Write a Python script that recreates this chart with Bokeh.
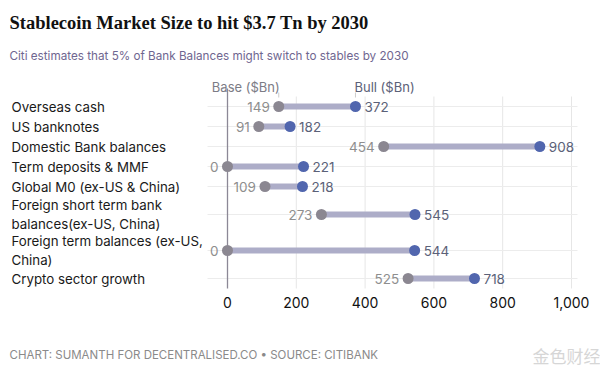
from bokeh.plotting import figure
from bokeh.layouts import column
from bokeh.models import Range1d, FixedTicker, NumeralTickFormatter, ColumnDataSource
from bokeh.core.properties import value
from bokeh.embed import file_html
from bokeh.resources import INLINE

# ---------------- data ----------------
categories = [
    "Overseas cash",
    "US banknotes",
    "Domestic Bank balances",
    "Term deposits & MMF",
    "Global M0 (ex-US & China)",
    "Foreign short term bank\nbalances(ex-US, China)",
    "Foreign term balances (ex-US,\nChina)",
    "Crypto sector growth",
]
base = [149, 91, 454, 0, 109, 273, 0, 525]
bull = [372, 182, 908, 221, 218, 545, 544, 718]
x_ticks = [0, 200, 400, 600, 800, 1000]

TITLE = "Stablecoin Market Size to hit $3.7 Tn by 2030"
SUBTITLE = "Citi estimates that 5% of Bank Balances might switch to stables by 2030"
FOOTER = "CHART: SUMANTH FOR DECENTRALISED.CO \u2022 SOURCE: CITIBANK"
WATERMARK = "金色财经"
BASE_HDR = "Base ($Bn)"
BULL_HDR = "Bull ($Bn)"

# ---------------- layout ----------------
W, H = 600, 374
H_MAIN = 336
X0_PAGE, X1000_PAGE = 227, 571
scale = (X1000_PAGE - X0_PAGE) / 1000.0
x_start = -X0_PAGE / scale
x_end = x_start + W / scale


def px(page_x):
    return x_start + page_x / scale


FRAME_BOTTOM = 289
ROWS_TOP = 96
LINE_H = {1: 20, 2: 36}
ys = []
cur = ROWS_TOP
for c in categories:
    h = LINE_H[c.count("\n") + 1]
    ys.append(cur + h / 2)
    cur += h

FONT = value("Inter")

p = figure(width=W, height=H_MAIN, x_range=Range1d(x_start, x_end),
           y_range=Range1d(FRAME_BOTTOM, 0), output_backend="svg",
           toolbar_location=None, y_axis_location=None,
           min_border_left=0, min_border_right=0, min_border_top=0,
           min_border_bottom=H_MAIN - FRAME_BOTTOM)
p.outline_line_color = None
p.xgrid.visible = False
p.ygrid.visible = False

# grid lines
vg = x_ticks[1:]
p.segment(x0=vg, y0=[ROWS_TOP] * len(vg), x1=vg, y1=[FRAME_BOTTOM - 1] * len(vg),
          line_color="#e6e6e6", line_width=1)
p.segment(x0=[px(207)] * len(ys), y0=ys, x1=[px(577)] * len(ys), y1=ys,
          line_color="#ececec", line_width=1)
# zero line
p.segment(x0=[0], y0=[88], x1=[0], y1=[FRAME_BOTTOM - 1], line_color="#8c8896", line_width=1.3)

src = ColumnDataSource(dict(cat=categories, base=base, bull=bull, y=ys,
                            bl=[str(v) for v in base], ul=[str(v) for v in bull]))

p.segment(x0="base", y0="y", x1="bull", y1="y", source=src,
          line_color="#adadc8", line_width=6)
p.scatter(x="base", y="y", source=src, size=11, fill_color="#8b8791", line_color=None)
p.scatter(x="bull", y="y", source=src, size=11, fill_color="#5166ae", line_color=None)

p.text(x="base", y="y", text="bl", source=src, x_offset=-9, text_align="right",
       text_baseline="middle", text_color="#8e8e8e", text_font=FONT, text_font_size="13.5px")
p.text(x="bull", y="y", text="ul", source=src, x_offset=9, text_align="left",
       text_baseline="middle", text_color="#5b6178", text_font=FONT, text_font_size="13.5px")

# headers
p.text(x=[base[0]], y=[86], text=[BASE_HDR], text_align="right", text_baseline="middle",
       text_color="#7c7c86", text_font=FONT, text_font_size="13px", x_offset=1)
p.text(x=[bull[0]], y=[86], text=[BULL_HDR], text_align="left", text_baseline="middle",
       text_color="#5b6178", text_font=FONT, text_font_size="13px", x_offset=-1)
p.segment(x0=[base[0], bull[0]], y0=[92, 92], x1=[base[0], bull[0]], y1=[97, 97],
          line_color="#cccccc", line_width=1)

# category labels
p.text(x=[px(11)] * len(categories), y=ys, text=categories, text_align="left",
       text_baseline="middle", text_color="#1a1a1a", text_font=FONT,
       text_font_size="13.3px", text_line_height=1.2)

# title / subtitle
p.text(x=[px(9)], y=[22], text=[TITLE], text_align="left", text_baseline="middle",
       text_color="#111111", text_font=value("Liberation Serif"), text_font_style="bold",
       text_font_size="18.5px")
p.text(x=[px(9)], y=[55], text=[SUBTITLE], text_align="left", text_baseline="middle",
       text_color="#6f6690", text_font=FONT, text_font_size="11.7px")

# x axis
ax = p.xaxis[0]
ax.ticker = FixedTicker(ticks=x_ticks)
ax.formatter = NumeralTickFormatter(format="0,0")
ax.axis_line_color = None
ax.major_tick_line_color = None
ax.minor_tick_line_color = None
ax.major_label_text_font = "Inter"
ax.major_label_text_font_size = "14px"
ax.major_label_text_color = "#111111"
ax.major_label_standoff = 1

# ---------------- footer strip ----------------
f = figure(width=W, height=H - H_MAIN, x_range=Range1d(x_start, x_end),
           y_range=Range1d(H, H_MAIN), output_backend="svg", toolbar_location=None,
           x_axis_location=None, y_axis_location=None,
           min_border=0)
f.outline_line_color = None
f.xgrid.visible = False
f.ygrid.visible = False
f.text(x=[px(9)], y=[354], text=[FOOTER], text_align="left", text_baseline="middle",
       text_font=FONT, text_font_size="11.5px", text_color="#8a8a8a")
f.text(x=[px(532)], y=[355], text=[WATERMARK], text_align="left", text_baseline="middle",
       text_font=value("Noto Sans CJK SC"), text_font_size="17px", text_color="#d6d6d6")

layout = column(p, f, spacing=0)
open("out.html", "w").write(file_html(layout, INLINE))
